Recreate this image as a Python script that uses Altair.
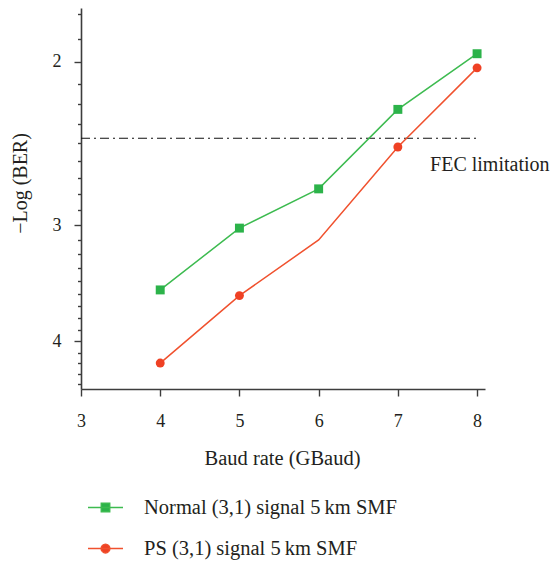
import altair as alt
import pandas as pd

# ---- data ----
baud = [4, 5, 6, 7, 8]
normal_values = [3.52, 3.02, 2.74, 2.25, 1.96]
ps_values = [4.22, 3.57, 3.11, 2.47, 2.03]
normal_markers = [True, True, True, True, True]
ps_markers = [True, True, False, True, True]
series_names = ["Normal (3,1) signal 5\u2009km SMF", "PS (3,1) signal 5\u2009km SMF"]

fec_level = 2.417
fec_start, fec_end = 3, 8
fec_label = "FEC limitation"

x_ticks = [3, 4, 5, 6, 7, 8]
y_major = [2, 3, 4]
minor_per_major = 8  # minor ticks between labelled values

# ---- styles ----
marker_colors = ["#2cb34a", "#ef4124"]
line_colors = ["#3dbb50", "#f0512e"]
shapes = ["square", "circle"]
legend_shapes = [
    "M-1,0H1M-0.24,-0.24H0.24V0.24H-0.24Z",
    "M-1,0H1M0.25,0A0.25,0.25 0 1,1 -0.25,0A0.25,0.25 0 1,1 0.25,0Z",
]
FONT = "Liberation Serif"
TEXT = "#231f20"
AXIS = "#3d3d3d"

rows = []
for name, vals, marks, mc, lc, sh in zip(
    series_names, [normal_values, ps_values], [normal_markers, ps_markers],
    marker_colors, line_colors, shapes,
):
    for b, v, m in zip(baud, vals, marks):
        rows.append(dict(series=name, baud=b, ber=v, marker=m,
                         marker_color=mc, line_color=lc, shape=sh))
df = pd.DataFrame(rows)
fec_df = pd.DataFrame({"x_start": [fec_start], "x_end": [fec_end],
                       "fec": [fec_level], "label": [fec_label]})

step = 1.0 / (minor_per_major + 1)
y_tick_values = []
for m in [1] + y_major:
    for i in range(minor_per_major + 1):
        v = round(m + i * step, 6)
        if 1.75 <= v <= 4.5:
            y_tick_values.append(v)

x_scale = alt.Scale(domain=[3, 8.1], nice=False, zero=False)
y_scale = alt.Scale(type="log", domain=[1.75, 4.5], reverse=True, nice=False)

is_major = "abs(datum.value - round(datum.value)) < 0.000001"
x_axis = alt.Axis(title="Baud rate (GBaud)", values=x_ticks, format="d",
                  tickSize=7, labelPadding=16, labelFlush=False,
                  labelFontSize=18, titleFontSize=20.5, titleFontWeight="normal",
                  titleX=201, titleY=75, titleBaseline="alphabetic",
                  titleAlign="center", grid=False)
y_axis = alt.Axis(title="\u2212Log (BER)", values=y_tick_values,
                  labelExpr=f"{is_major} ? format(datum.value, 'd') : ''",
                  tickSize={"condition": {"test": is_major, "value": 7}, "value": 3.5},
                  labelPadding=13, labelOverlap=False, labelFontSize=18,
                  titleFontSize=20, titleFontWeight="normal",
                  titleX=-61, titleY=175, titleAngle=270,
                  titleAlign="center", titleBaseline="middle", grid=False)

X = alt.X("baud:Q", scale=x_scale, axis=x_axis)
Y = alt.Y("ber:Q", scale=y_scale, axis=y_axis)

fec_rule = alt.Chart(fec_df).mark_rule(
    color="#111111", strokeWidth=1.2, strokeDash=[9, 4, 2, 4]
).encode(
    x=alt.X("x_start:Q", scale=x_scale, axis=x_axis),
    x2="x_end:Q",
    y=alt.Y("fec:Q", scale=y_scale, axis=y_axis),
)

fec_text = alt.Chart(fec_df).mark_text(
    align="left", baseline="alphabetic", dx=-47, dy=33,
    font=FONT, fontSize=20, color=TEXT,
).encode(
    x=alt.X("x_end:Q", scale=x_scale, axis=x_axis),
    y=alt.Y("fec:Q", scale=y_scale, axis=y_axis),
    text="label:N",
)

lines = alt.Chart(df).mark_line(strokeWidth=1.5).encode(
    x=X, y=Y,
    color=alt.Color("line_color:N", scale=None),
    detail="series:N",
)

points = alt.Chart(df).transform_filter("datum.marker").mark_point(
    filled=True, opacity=1, size=80
).encode(
    x=X, y=Y,
    color=alt.Color("marker_color:N", scale=None),
    shape=alt.Shape("shape:N", scale=None),
)

leg = alt.Legend(
    title=None, orient="none", legendX=6, legendY=481, direction="vertical",
    symbolSize=1225, symbolStrokeWidth=1.5, symbolOpacity=1,
    labelOffset=20, rowPadding=12, labelFont=FONT, labelFontSize=20.5,
    labelColor=TEXT, padding=0, labelLimit=400,
)

legend_layer = alt.Chart(df).mark_point(filled=True, opacity=0, size=10).encode(
    x=X, y=Y,
    color=alt.Color("series:N", scale=alt.Scale(domain=series_names, range=marker_colors), legend=leg),
    stroke=alt.Stroke("series:N", scale=alt.Scale(domain=series_names, range=line_colors), legend=leg),
    shape=alt.Shape("series:N", scale=alt.Scale(domain=series_names, range=legend_shapes), legend=leg),
)

chart = alt.layer(fec_rule, lines, points, legend_layer, fec_text).properties(
    width=404, height=381,
    autosize=alt.AutoSizeParams(type="none"),
    padding={"left": 73, "top": 0, "right": 66, "bottom": 176},
).configure_view(stroke=None).configure_axis(
    domainColor=AXIS, domainWidth=1.6, tickColor=AXIS, tickWidth=1.4,
    labelColor=TEXT, titleColor=TEXT, labelFont=FONT, titleFont=FONT,
)

chart.save("out.html", embed_options={"renderer": "svg", "actions": False})
